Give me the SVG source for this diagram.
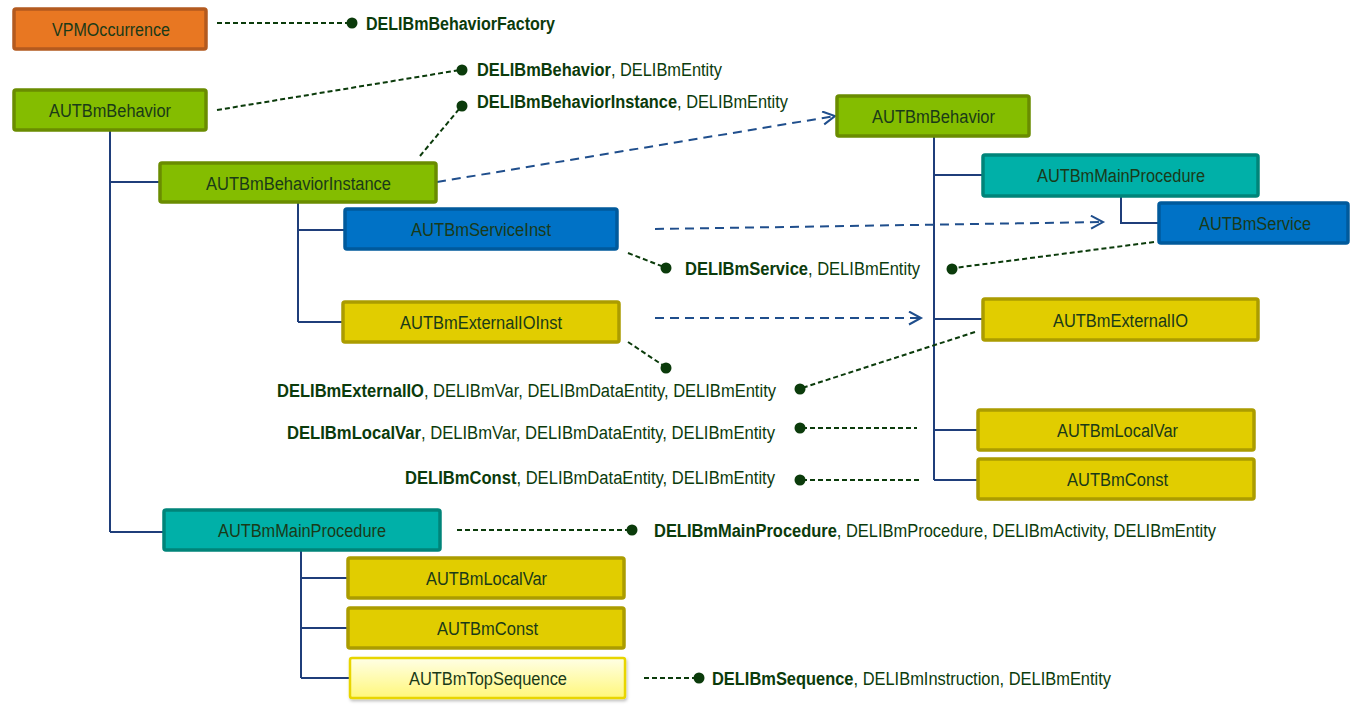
<svg xmlns="http://www.w3.org/2000/svg" width="1360" height="706" viewBox="0 0 1360 706">
<style>
.bx{stroke-width:3.5}
.or{fill:#E87722;stroke:#B35A1F}
.gr{fill:#84BD00;stroke:#6A8C00}
.te{fill:#00B0A8;stroke:#008479}
.bl{fill:#0072C6;stroke:#005A9C}
.ye{fill:#E1CD00;stroke:#AB9C00}
.ly{fill:url(#lyg);stroke:#E8D500;stroke-width:2.5}
.lbl{font-family:"Liberation Sans",Arial,sans-serif;font-size:18px;fill:#1A3A18}
.t{font-family:"Liberation Sans",Arial,sans-serif;font-size:18px;fill:#0B3B0B}
.b{font-weight:bold}
.tree{fill:none;stroke:#1F3E7A;stroke-width:2}
.arr{fill:none;stroke:#1F4E8C;stroke-width:2;stroke-dasharray:9,6}
.gd{fill:none;stroke:#0B3B0B;stroke-width:2;stroke-dasharray:5,3}
.dot{fill:#0B3B0B}
</style>
<defs>
<linearGradient id="lyg" x1="0" y1="0" x2="0" y2="1">
<stop offset="0" stop-color="#FFFFE6"/>
<stop offset="1" stop-color="#FFF77A"/>
</linearGradient>
<marker id="ah" markerUnits="userSpaceOnUse" markerWidth="16" markerHeight="16" refX="13" refY="7" orient="auto">
<path d="M1,0.5 L13,7 L1,13.5" fill="none" stroke="#1F4E8C" stroke-width="2"/>
</marker>
<filter id="sh" x="-5%" y="-20%" width="110%" height="150%">
<feDropShadow dx="1" dy="2" stdDeviation="1.5" flood-color="#000" flood-opacity="0.25"/>
</filter>
</defs>

<g id="connectors">
<path class="tree" d="M110,130 V532 M110,182 H160 M110,532 H164"/>
<path class="tree" d="M298,202 V322 M298,230 H345 M298,322 H343"/>
<path class="tree" d="M301,550 V678 M301,578 H348 M301,628 H348 M301,678 H350"/>
<path class="tree" d="M934,136 V480 M934,175 H983 M934,319 H983 M934,430 H978 M934,480 H978"/>
<path class="tree" d="M1121,196 V223 H1159"/>
<line class="arr" x1="437" y1="182" x2="835" y2="116" marker-end="url(#ah)"/>
<line class="arr" x1="655" y1="229" x2="1103" y2="222" marker-end="url(#ah)"/>
<line class="arr" x1="655" y1="318" x2="921" y2="318" marker-end="url(#ah)"/>
<line class="gd" x1="217" y1="23" x2="350" y2="23"/><circle class="dot" cx="352" cy="23" r="5.5"/>
<line class="gd" x1="217" y1="110" x2="460" y2="70"/><circle class="dot" cx="462" cy="70" r="5.5"/>
<line class="gd" x1="420" y1="156" x2="460" y2="108"/><circle class="dot" cx="462" cy="106" r="5.5"/>
<line class="gd" x1="628" y1="253" x2="664" y2="267"/><circle class="dot" cx="666" cy="268" r="5.5"/>
<line class="gd" x1="1154" y1="242" x2="954" y2="268"/><circle class="dot" cx="952" cy="269" r="5.5"/>
<line class="gd" x1="628" y1="342" x2="664" y2="366"/><circle class="dot" cx="666" cy="368" r="5.5"/>
<line class="gd" x1="975" y1="332" x2="802" y2="388"/><circle class="dot" cx="800" cy="389" r="5.5"/>
<line class="gd" x1="802" y1="428" x2="917" y2="428"/><circle class="dot" cx="800" cy="428" r="5.5"/>
<line class="gd" x1="802" y1="480" x2="919" y2="480"/><circle class="dot" cx="800" cy="480" r="5.5"/>
<line class="gd" x1="457" y1="530" x2="630" y2="530"/><circle class="dot" cx="632" cy="530" r="5.5"/>
<line class="gd" x1="644" y1="678" x2="697" y2="678"/><circle class="dot" cx="699" cy="678" r="5.5"/>
</g>

<g id="labels">
<text class="t b" x="366" y="30" textLength="189" lengthAdjust="spacingAndGlyphs">DELIBmBehaviorFactory</text>
<text class="t" x="477" y="76" textLength="245" lengthAdjust="spacingAndGlyphs"><tspan class="b">DELIBmBehavior</tspan>, DELIBmEntity</text>
<text class="t" x="477" y="108" textLength="311" lengthAdjust="spacingAndGlyphs"><tspan class="b">DELIBmBehaviorInstance</tspan>, DELIBmEntity</text>
<text class="t" x="685" y="275" textLength="235" lengthAdjust="spacingAndGlyphs"><tspan class="b">DELIBmService</tspan>, DELIBmEntity</text>
<text class="t" x="277" y="397" textLength="499" lengthAdjust="spacingAndGlyphs"><tspan class="b">DELIBmExternalIO</tspan>, DELIBmVar, DELIBmDataEntity, DELIBmEntity</text>
<text class="t" x="287" y="439" textLength="488" lengthAdjust="spacingAndGlyphs"><tspan class="b">DELIBmLocalVar</tspan>, DELIBmVar, DELIBmDataEntity, DELIBmEntity</text>
<text class="t" x="405" y="484" textLength="370" lengthAdjust="spacingAndGlyphs"><tspan class="b">DELIBmConst</tspan>, DELIBmDataEntity, DELIBmEntity</text>
<text class="t" x="654" y="537" textLength="562" lengthAdjust="spacingAndGlyphs"><tspan class="b">DELIBmMainProcedure</tspan>, DELIBmProcedure, DELIBmActivity, DELIBmEntity</text>
<text class="t" x="712" y="685" textLength="399" lengthAdjust="spacingAndGlyphs"><tspan class="b">DELIBmSequence</tspan>, DELIBmInstruction, DELIBmEntity</text>
</g>

<g id="n-vpmoccurrence"><rect class="bx or" x="14" y="9" width="192" height="40" rx="2"/><text class="lbl" x="52" y="36" textLength="118" lengthAdjust="spacingAndGlyphs">VPMOccurrence</text></g>
<g id="n-behavior-l"><rect class="bx gr" x="14" y="90" width="192" height="40" rx="2"/><text class="lbl" x="49" y="117" textLength="122" lengthAdjust="spacingAndGlyphs">AUTBmBehavior</text></g>
<g id="n-behaviorinstance"><rect class="bx gr" x="160" y="163" width="276" height="39" rx="2"/><text class="lbl" x="206" y="190" textLength="185" lengthAdjust="spacingAndGlyphs">AUTBmBehaviorInstance</text></g>
<g id="n-serviceinst"><rect class="bx bl" x="345" y="209" width="272" height="40" rx="2"/><text class="lbl" x="411" y="236" textLength="140" lengthAdjust="spacingAndGlyphs">AUTBmServiceInst</text></g>
<g id="n-externalioinst"><rect class="bx ye" x="343" y="302" width="276" height="40" rx="2"/><text class="lbl" x="400" y="329" textLength="162" lengthAdjust="spacingAndGlyphs">AUTBmExternalIOInst</text></g>
<g id="n-behavior-r"><rect class="bx gr" x="837" y="96" width="192" height="40" rx="2"/><text class="lbl" x="872" y="123" textLength="123" lengthAdjust="spacingAndGlyphs">AUTBmBehavior</text></g>
<g id="n-mainproc-r"><rect class="bx te" x="983" y="155" width="275" height="41" rx="2"/><text class="lbl" x="1037" y="182" textLength="168" lengthAdjust="spacingAndGlyphs">AUTBmMainProcedure</text></g>
<g id="n-service"><rect class="bx bl" x="1159" y="203" width="189" height="40" rx="2"/><text class="lbl" x="1199" y="230" textLength="112" lengthAdjust="spacingAndGlyphs">AUTBmService</text></g>
<g id="n-externalio"><rect class="bx ye" x="983" y="299" width="275" height="41" rx="2"/><text class="lbl" x="1053" y="327" textLength="135" lengthAdjust="spacingAndGlyphs">AUTBmExternalIO</text></g>
<g id="n-localvar-r"><rect class="bx ye" x="978" y="410" width="276" height="40" rx="2"/><text class="lbl" x="1057" y="437" textLength="121" lengthAdjust="spacingAndGlyphs">AUTBmLocalVar</text></g>
<g id="n-const-r"><rect class="bx ye" x="978" y="459" width="276" height="40" rx="2"/><text class="lbl" x="1067" y="486" textLength="101" lengthAdjust="spacingAndGlyphs">AUTBmConst</text></g>
<g id="n-mainproc-l"><rect class="bx te" x="164" y="510" width="276" height="40" rx="2"/><text class="lbl" x="218" y="537" textLength="168" lengthAdjust="spacingAndGlyphs">AUTBmMainProcedure</text></g>
<g id="n-localvar-l"><rect class="bx ye" x="348" y="558" width="276" height="40" rx="2"/><text class="lbl" x="426" y="585" textLength="121" lengthAdjust="spacingAndGlyphs">AUTBmLocalVar</text></g>
<g id="n-const-l"><rect class="bx ye" x="348" y="608" width="276" height="40" rx="2"/><text class="lbl" x="437" y="635" textLength="101" lengthAdjust="spacingAndGlyphs">AUTBmConst</text></g>
<g id="n-topsequence"><rect class="ly" x="350" y="658" width="275" height="40" rx="2" filter="url(#sh)"/><text class="lbl" x="409" y="685" textLength="158" lengthAdjust="spacingAndGlyphs">AUTBmTopSequence</text></g>
</svg>
